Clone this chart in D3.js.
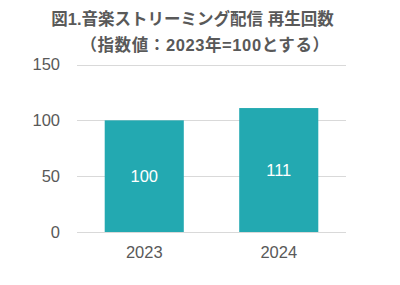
<!DOCTYPE html>
<html><head><meta charset="utf-8">
<script src="https://cdn.jsdelivr.net/npm/d3@7"></script>
<style>body{margin:0;background:#fff}svg{display:block}</style>
</head><body>
<script>
const categories = ["2023", "2024"];
const values = [100, 111];
const yTicks = [0, 50, 100, 150];
const titleLines = ["図1.音楽ストリーミング配信 再生回数", "（指数値：2023年=100とする）"];

const W = 400, H = 285;
const m = {left: 77, right: 54, top: 64.5, bottom: 53};
const svg = d3.select("body").append("svg").attr("width", W).attr("height", H);

const x = d3.scaleBand().domain(categories).range([m.left, W - m.right]).paddingInner(0.412).paddingOuter(0.206);
const y = d3.scaleLinear().domain([0, 150]).range([H - m.bottom, m.top]);

const font = "'Liberation Sans', Arial, sans-serif";
const tfont = "'Liberation Sans', 'Noto Sans CJK JP', sans-serif";

svg.append("g").selectAll("line").data(yTicks).join("line")
  .attr("x1", m.left).attr("x2", W - m.right)
  .attr("y1", d => Math.round(y(d)) + 0.5).attr("y2", d => Math.round(y(d)) + 0.5)
  .attr("stroke", "#d9d9d9").attr("stroke-width", 1);

const yAxis = d3.axisLeft(y).tickValues(yTicks).tickSize(0).tickPadding(17);
const ga = svg.append("g").attr("transform", `translate(${m.left},0)`).call(yAxis);
ga.select(".domain").remove();
ga.selectAll("text").attr("font-family", font).attr("font-size", 16.5).attr("fill", "#595959");

svg.append("g").selectAll("rect").data(values).join("rect")
  .attr("x", (d, i) => x(categories[i])).attr("width", x.bandwidth())
  .attr("y", d => y(d)).attr("height", d => y(0) - y(d))
  .attr("fill", "#23a9b1");

svg.append("g").selectAll("text").data(values).join("text")
  .attr("x", (d, i) => x(categories[i]) + x.bandwidth() / 2)
  .attr("y", d => (y(d) + y(0)) / 2).attr("dy", "0.35em")
  .attr("text-anchor", "middle").attr("font-family", font).attr("font-size", 16.5)
  .attr("fill", "#fff").text(d => d);

const xAxis = d3.axisBottom(x).tickSize(0).tickPadding(14);
const gx = svg.append("g").attr("transform", `translate(0,${H - m.bottom})`).call(xAxis);
gx.select(".domain").remove();
gx.selectAll("text").attr("font-family", font).attr("font-size", 16.5).attr("fill", "#595959");

svg.append("text").attr("x", 192.5).attr("y", 25).attr("text-anchor", "middle")
  .attr("font-family", tfont).attr("font-weight", "bold").attr("font-size", 16.5).attr("fill", "#595959")
  .text(titleLines[0]);
svg.append("text").attr("x", 205).attr("y", 51).attr("text-anchor", "middle")
  .attr("font-family", tfont).attr("font-weight", "bold").attr("font-size", 16.5).attr("fill", "#595959")
  .attr("letter-spacing", 0.6)
  .text(titleLines[1]);
</script>
</body></html>
